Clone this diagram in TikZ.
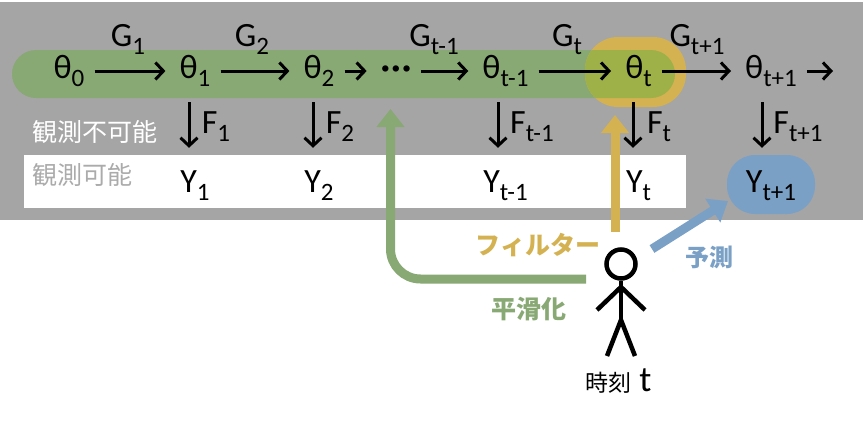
\documentclass[tikz,border=0pt]{standalone}
\usepackage{fontspec}
\setmainfont{Carlito}
\newfontfamily\jpfont{Noto Sans CJK JP}
\usetikzlibrary{arrows.meta}

\definecolor{bandgray}{HTML}{A5A5A5}
\definecolor{smoothgreen}{HTML}{88A874}
\definecolor{filterorange}{HTML}{D4B252}
\definecolor{overlapgreen}{HTML}{9EB048}
\definecolor{predictblue}{HTML}{7AA0C6}
\definecolor{obsgray}{HTML}{ABABAB}

\newcommand{\bigsub}[2]{\fontsize{34}{34}\selectfont #1\raisebox{-8pt}{\fontsize{25}{25}\selectfont #2}}

\tikzset{
	state/.style={inner xsep=10pt, inner ysep=0pt, text height=38pt, text depth=24pt, execute at begin node=\hspace{4pt}},
	obs/.style={inner sep=0pt, text height=44pt, text depth=6pt, execute at begin node=\hspace{4pt}},
	trans/.style={anchor=base, inner sep=0pt},
	flow/.style={line width=3pt, -{Straight Barb[length=8pt,width=17pt]}},
	bigarrow/.style={line width=9pt, -{Triangle[length=18pt,width=27pt]}},
	jplabel/.style={inner sep=0pt, font=\jpfont\fontsize{25}{25}\selectfont},
	stick/.style={line width=4.5pt}
}

\begin{document}
\begin{tikzpicture}[x=1pt, y=-1pt]
	\useasboundingbox (0,0) rectangle (863,426);

	\fill[bandgray] (0,2) rectangle (863,220);
	\fill[white] (24,155) rectangle (686,208);
	\fill[smoothgreen] (12,50) [rounded corners=24pt] rectangle (675,98);
	\fill[filterorange] (585,37) [rounded corners=33pt] rectangle (686,107);
	\begin{scope}
		\clip (585,37) [rounded corners=33pt] rectangle (686,107);
		\fill[overlapgreen] (12,50) [rounded corners=24pt] rectangle (675,98);
	\end{scope}
	\fill[predictblue] (727,155) [rounded corners=28pt] rectangle (815,214);

	\node[state] (th0) at (67,71) {\bigsub{θ}{0}};
	\node[state] (th1) at (193,71) {\bigsub{θ}{1}};
	\node[state] (th2) at (317,71) {\bigsub{θ}{2}};
	\node[state] (dots) at (394,71) {\fontsize{34}{34}\selectfont\bfseries ·\kern1.5pt·\kern1.5pt·};
	\node[state] (thp) at (503.5,71) {\bigsub{θ}{t-1}};
	\node[state] (tht) at (636.5,71) {\bigsub{θ}{t}};
	\node[state] (thn) at (769,71) {\bigsub{θ}{t+1}};
	\coordinate (thend) at (833,71);

	\draw[flow] (th0) -- (th1);
	\draw[flow] (th1) -- (th2);
	\draw[flow] (th2) -- (dots);
	\draw[flow] (dots) -- (thp);
	\draw[flow] (thp) -- (tht);
	\draw[flow] (tht) -- (thn);
	\draw[flow] (thn) -- (thend);

	\node[trans] (g1) at (128,46) {\bigsub{G}{1}};
	\node[trans] (g2) at (252,46) {\bigsub{G}{2}};
	\node[trans] (gp) at (434,46) {\bigsub{G}{t-1}};
	\node[trans] (gt) at (567,46) {\bigsub{G}{t}};
	\node[trans] (gn) at (697,46) {\bigsub{G}{t+1}};

	\node[obs] (y1) at (193,173) {\bigsub{Y}{1}};
	\node[obs] (y2) at (317,173) {\bigsub{Y}{2}};
	\node[obs] (yp) at (503.5,173) {\bigsub{Y}{t-1}};
	\node[obs] (yt) at (636.5,173) {\bigsub{Y}{t}};
	\node[obs] (yn) at (769,173) {\bigsub{Y}{t+1}};

	\draw[flow] ([xshift=-4pt]th1.south) -- ([xshift=-4pt]y1.north);
	\draw[flow] ([xshift=-4pt]th2.south) -- ([xshift=-4pt]y2.north);
	\draw[flow] ([xshift=-5.5pt]thp.south) -- ([xshift=-5.5pt]yp.north);
	\draw[flow] ([xshift=-3.5pt]tht.south) -- ([xshift=-3.5pt]yt.north);
	\draw[flow] ([xshift=-7pt]thn.south) -- ([xshift=-7pt]yn.north);

	\node[trans] (f1) at (216,133) {\bigsub{F}{1}};
	\node[trans] (f2) at (340,133) {\bigsub{F}{2}};
	\node[trans] (fp) at (532,133) {\bigsub{F}{t-1}};
	\node[trans] (ft) at (659,133) {\bigsub{F}{t}};
	\node[trans] (fn) at (798,133) {\bigsub{F}{t+1}};

	\node[jplabel, white, anchor=west] (hidden) at (32,132) {観測不可能};
	\node[jplabel, obsgray, anchor=west] (seen) at (32,175) {観測可能};

	\coordinate (greenstart) at (586,279);
	\coordinate (greencorner) at (390.5,279);
	\coordinate (greentip) at (390.5,109);
	\coordinate (orangestart) at (615,232);
	\coordinate (orangetip) at (615,115);
	\coordinate (bluestart) at (652,249);
	\coordinate (bluetip) at (728,201);

	\draw[bigarrow, smoothgreen, rounded corners=30pt] (greenstart) -- (greencorner) -- (greentip);
	\draw[bigarrow, filterorange] (orangestart) -- (orangetip);
	\draw[bigarrow, predictblue] (bluestart) -- (bluetip);

	\node[jplabel, filterorange, font=\jpfont\bfseries\fontsize{25}{25}\selectfont] (filterlabel) at (538,245) {フィルター};
	\node[jplabel, predictblue, font=\jpfont\bfseries\fontsize{24}{24}\selectfont] (predictlabel) at (709,257) {予測};
	\node[jplabel, smoothgreen, font=\jpfont\bfseries\fontsize{25}{25}\selectfont] (smoothlabel) at (529,309) {平滑化};

	\node[stick, draw, circle, inner sep=0pt, minimum size=29pt] (head) at (621,264) {};
	\coordinate (neck) at (621,287);
	\coordinate (hip) at (621,320);
	\coordinate (lhand) at (597,310);
	\coordinate (rhand) at (645,310);
	\coordinate (lfoot) at (607,356);
	\coordinate (rfoot) at (635,356);
	\draw[stick] (head) -- (hip);
	\draw[stick] (lhand) -- (neck) -- (rhand);
	\draw[stick] (lfoot) -- (hip) -- (rfoot);

	\node[inner sep=0pt, anchor=base west] (timelabel) at (585,391) {\jpfont\fontsize{23}{23}\selectfont 時刻 \hspace{3pt}\fontspec{Carlito}\fontsize{36}{36}\selectfont t};
\end{tikzpicture}
\end{document}
